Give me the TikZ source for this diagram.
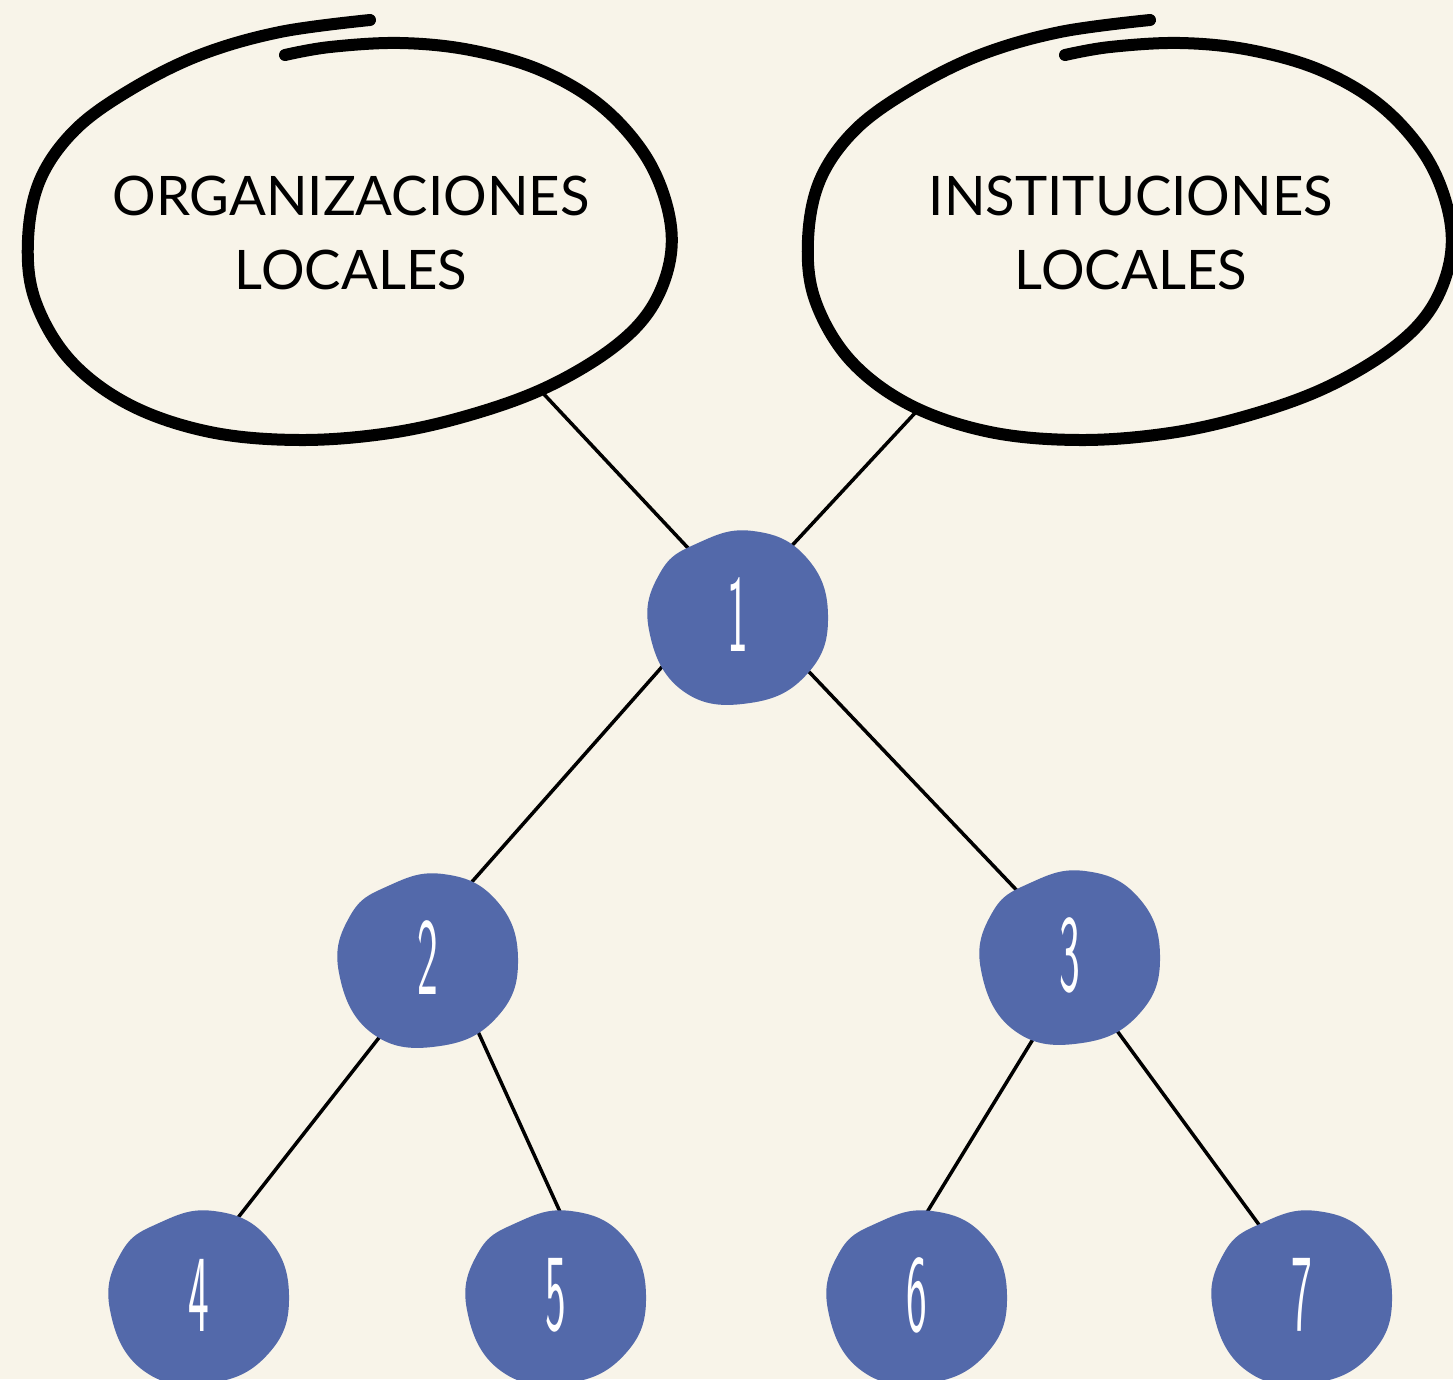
\documentclass[tikz,border=0pt]{standalone}
\usepackage{fontspec}
\setmainfont{Lato}
\usetikzlibrary{shapes.geometric}
\definecolor{paper}{HTML}{F8F4E9}
\definecolor{blobc}{HTML}{5369AA}
\pgfdeclarelayer{bg}\pgfdeclarelayer{edges}
\pgfsetlayers{bg,edges,main}
\tikzset{
  numnode/.style={circle, minimum size=150pt, inner sep=0pt, text=white, font=\sffamily\fontsize{110}{110}\selectfont},
  ovalnode/.style={ellipse, minimum width=640pt, minimum height=400pt, inner sep=0pt, align=center, font=\fontsize{54.5}{74}\selectfont},
  link/.style={line width=3.5pt, line cap=round},
  oval/.style={line width=12pt, line cap=round, line join=round},
}
\newcommand\myblob[4]{%
  \begin{scope}[shift={(#2,#3)}]
    \fill[blobc] plot[smooth cycle, tension=0.75] coordinates {(90,0) (70,58) (12,88) (-55,76) (-89,15) (-78,-42) (-40,-72) (15,-84) (68,-58)};
  \end{scope}
  \node[numnode] (#1) at (#2,#3) {\scalebox{0.4}[1]{#4}};}
\newcommand\myoval[2]{%
  \begin{scope}[shift={(#1,#2)}]
    \draw[oval] plot[smooth, tension=0.6] coordinates {(285,55) (330,47) (400,43) (470,50) (540,70) (600,105) (645,155) (668,210) (670,260) (650,310) (610,350) (545,388) (470,415) (390,433) (300,440) (210,432) (130,405) (70,360) (35,300) (28,240) (40,180) (75,130) (130,90) (200,55) (280,32) (370,20)};
  \end{scope}}
\begin{document}
\begin{tikzpicture}[x=1pt, y=-1pt]
\begin{pgfonlayer}{bg}
  \fill[paper] (0,0) rectangle (1453,1379);
\end{pgfonlayer}
\path[use as bounding box] (0,0) rectangle (1453,1379);
\myoval{0}{0}
\myoval{780}{0}
\node[ovalnode] (org) at (351,233) {ORGANIZACIONES\\LOCALES};
\node[ovalnode] (inst) at (1131,233) {INSTITUCIONES\\LOCALES};
\coordinate (orgfoot) at (540,390);
\coordinate (instfoot) at (915,413);
\myblob{n1}{738}{615}{1}
\myblob{n2}{428}{958}{2}
\myblob{n3}{1070}{955}{3}
\myblob{n4}{199}{1295}{4}
\myblob{n5}{556}{1295}{5}
\myblob{n6}{917}{1295}{6}
\myblob{n7}{1302}{1295}{7}
\begin{pgfonlayer}{edges}
  \draw[link] (orgfoot) -- (n1.126);
  \draw[link] (instfoot) -- (n1.53);
  \draw[link] (n1.211) -- (n2.62);
  \draw[link] (n1.323) -- (n3.129);
  \draw[link] (n2.240) -- (n4.65);
  \draw[link] (n2.306) -- (n5.84);
  \draw[link] (n3.248) -- (n6.86);
  \draw[link] (n3.301) -- (n7.121);
\end{pgfonlayer}
\end{tikzpicture}
\end{document}
